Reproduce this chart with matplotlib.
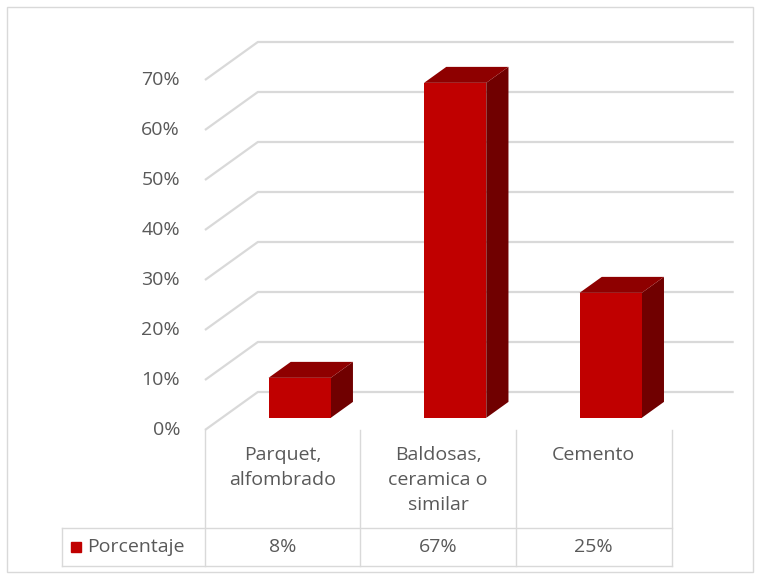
import matplotlib.pyplot as plt
from matplotlib.patches import Polygon, Rectangle

# Datos
categorias = ["Parquet,\nalfombrado", "Baldosas,\nceramica o\nsimilar", "Cemento"]
porcentaje = [8, 67, 25]
etiquetas = ["8%", "67%", "25%"]
ticks = [0, 10, 20, 30, 40, 50, 60, 70]
serie = "Porcentaje"

# Colores
rojo = "#c00000"
rojo_top = "#8e0000"
rojo_lado = "#700000"
gris_grid = "#d9d9d9"
gris_texto = "#595959"

plt.rcParams["font.family"] = ["Open Sans", "DejaVu Sans"]
fs = 14

fig = plt.figure(figsize=(7.6, 5.78), dpi=100)
ax = fig.add_axes([0, 0, 1, 1])
# 1 unidad en x = una columna de la tabla, eje y en %
ax.set_xlim(-1.818, 3.069)
ax.set_ylim(-29.6, 86)
ax.axis("off")

# Profundidad (proyeccion oblicua)
DX = 0.34
DY = 7.6
n = len(categorias)
x_izq = -0.5
x_der = n - 0.5 + DX + 0.06

# Rejilla: linea inclinada en la pared izquierda + horizontal en el fondo
for t in ticks:
    ax.plot([x_izq, x_izq + DX, x_der], [t, t + DY, t + DY],
            color=gris_grid, lw=1.6, solid_capstyle="butt", zorder=1)
    ax.text(x_izq - 0.16, t, f"{t}%", ha="right", va="center",
            fontsize=fs, color=gris_texto)

# Barras 3D
ancho = 0.40
d0, d1 = 0.32, 0.74
for i, v in enumerate(porcentaje):
    x0 = i - ancho / 2 + d0 * DX
    x1 = i + ancho / 2 + d0 * DX
    y0 = d0 * DY
    ox = (d1 - d0) * DX
    oy = (d1 - d0) * DY
    frente = [(x0, y0), (x1, y0), (x1, y0 + v), (x0, y0 + v)]
    arriba = [(x0, y0 + v), (x1, y0 + v), (x1 + ox, y0 + v + oy), (x0 + ox, y0 + v + oy)]
    lado = [(x1, y0), (x1 + ox, y0 + oy), (x1 + ox, y0 + v + oy), (x1, y0 + v)]
    ax.add_patch(Polygon(lado, closed=True, facecolor=rojo_lado, edgecolor="none", zorder=3))
    ax.add_patch(Polygon(arriba, closed=True, facecolor=rojo_top, edgecolor="none", zorder=3))
    ax.add_patch(Polygon(frente, closed=True, facecolor=rojo, edgecolor="none", zorder=4))

# Tabla de datos
y_fila = -19.6
y_fin = -27.2
x_ley = -1.42
for k in range(n + 1):
    ax.plot([k - 0.5, k - 0.5], [0, y_fin], color=gris_grid, lw=1, zorder=1)
ax.plot([x_ley, n - 0.5], [y_fila, y_fila], color=gris_grid, lw=1, zorder=1)
ax.plot([x_ley, n - 0.5], [y_fin, y_fin], color=gris_grid, lw=1, zorder=1)
ax.plot([x_ley, x_ley], [y_fila, y_fin], color=gris_grid, lw=1, zorder=1)

for i, c in enumerate(categorias):
    ax.text(i, -3.2, c, ha="center", va="top", fontsize=fs,
            color=gris_texto, linespacing=1.5)
    ax.text(i, (y_fila + y_fin) / 2, etiquetas[i], ha="center", va="center",
            fontsize=fs, color=gris_texto)

ax.plot([-1.33], [(y_fila + y_fin) / 2], marker="s", markersize=7,
        color=rojo, linestyle="none")
ax.text(-1.26, (y_fila + y_fin) / 2, serie, ha="left", va="center",
        fontsize=fs, color=gris_texto)

# Borde del grafico
fig.patches.append(Rectangle((7 / 760, 6 / 578), 746 / 760, 565 / 578,
                             transform=fig.transFigure, fill=False,
                             edgecolor=gris_grid, lw=1))

plt.savefig("out.png", dpi=100)
